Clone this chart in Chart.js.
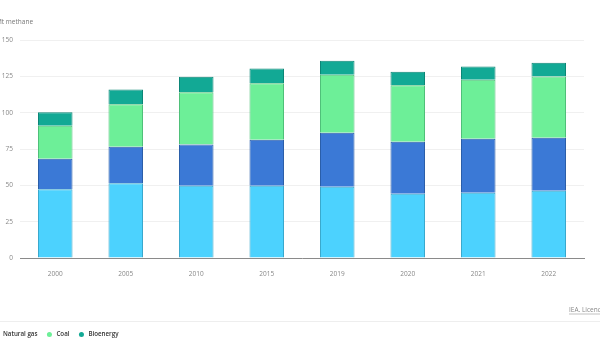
<!DOCTYPE html>
<html>
<head>
<meta charset="utf-8">
<script src="https://cdn.jsdelivr.net/npm/chart.js@4"></script>
<style>
  html, body { margin: 0; padding: 0; background: #fff; }
  #wrap { width: 600px; height: 343px; position: relative; }
</style>
</head>
<body>
<div id="wrap"><canvas id="chart-methane"></canvas></div>
<script>
// Methane emissions from energy, Mt
const years = ["2000", "2005", "2010", "2015", "2019", "2020", "2021", "2022"];
const oil = [47.3, 51.5, 49.7, 49.7, 49.0, 44.2, 44.9, 46.2];
const naturalGas = [21.0, 25.0, 28.4, 31.6, 37.2, 35.8, 37.1, 36.5];
const coal = [22.7, 29.3, 36.0, 39.0, 39.9, 38.9, 40.6, 42.2];
const bioenergy = [9.3, 10.2, 10.6, 10.1, 9.6, 9.2, 9.2, 9.4];
const yTicks = [0, 25, 50, 75, 100, 125, 150];

const FONT = "'Open Sans', sans-serif";

function serie(label, data, fill, border) {
    return {
        label,
        data,
        backgroundColor: fill,
        borderColor: border,
        borderWidth: 1,
        barPercentage: 0.49,
        categoryPercentage: 1
    };
}

// Unit label, source note, separator and legend row
const extras = {
    id: "extras",
    afterDraw(chart) {
        const ctx = chart.ctx;
        ctx.save();
        ctx.textBaseline = "middle";
        ctx.textAlign = "left";

        ctx.fillStyle = "#777";
        ctx.font = "6.5px " + FONT;
        ctx.fillText("Mt methane", -4, 22);

        ctx.fillStyle = "#888";
        ctx.font = "6.5px " + FONT;
        const src = "IEA. Licence: CC BY 4.0";
        ctx.fillText(src, 569, 310);
        const w = ctx.measureText(src).width;
        ctx.strokeStyle = "#999";
        ctx.lineWidth = 0.6;
        ctx.beginPath();
        ctx.moveTo(569, 314);
        ctx.lineTo(569 + w, 314);
        ctx.stroke();

        ctx.strokeStyle = "#eee";
        ctx.lineWidth = 1;
        ctx.beginPath();
        ctx.moveTo(0, 321.5);
        ctx.lineTo(600, 321.5);
        ctx.stroke();

        // legend: one dot + label per series, first item sits past the left edge
        ctx.font = "600 6.2px " + FONT;
        const gap = 12;
        let x = -4 - gap - ctx.measureText("Oil").width - 7;
        chart.data.datasets.forEach(ds => {
            ctx.fillStyle = ds.backgroundColor;
            ctx.beginPath();
            ctx.arc(x, 334.5, 2.5, 0, Math.PI * 2);
            ctx.fill();
            ctx.fillStyle = "#333";
            ctx.fillText(ds.label, x + 7, 334.5);
            x += 7 + ctx.measureText(ds.label).width + gap;
        });
        ctx.restore();
    }
};

new Chart(document.getElementById("chart-methane"), {
    type: "bar",
    data: {
        labels: years,
        datasets: [
            serie("Oil", oil, "#4cd2fe", "#3aa8cc"),
            serie("Natural gas", naturalGas, "#3b79d6", "#2b5ea8"),
            serie("Coal", coal, "#6def98", "#4fbf78"),
            serie("Bioenergy", bioenergy, "#12a995", "#0c8676")
        ]
    },
    options: {
        responsive: true,
        maintainAspectRatio: false,
        animation: false,
        layout: { padding: { top: 40, right: 16, bottom: 65, left: 0 } },
        plugins: {
            legend: { display: false },
            tooltip: { enabled: false }
        },
        scales: {
            x: {
                stacked: true,
                afterFit: s => { s.height = 20; },
                grid: { display: false },
                border: { display: true, color: "#8a8a8a", width: 1 },
                ticks: { color: "#888", font: { family: FONT, size: 6.5 }, padding: 4 }
            },
            y: {
                stacked: true,
                min: 0,
                max: 150,
                afterFit: s => { s.width = 20; },
                afterBuildTicks: s => { s.ticks = yTicks.map(v => ({ value: v })); },
                border: { display: false },
                grid: { color: "#f0f0f0", drawTicks: false },
                ticks: { color: "#888", font: { family: FONT, size: 6.5 }, padding: 7 }
            }
        }
    },
    plugins: [extras]
});
</script>
</body>
</html>
